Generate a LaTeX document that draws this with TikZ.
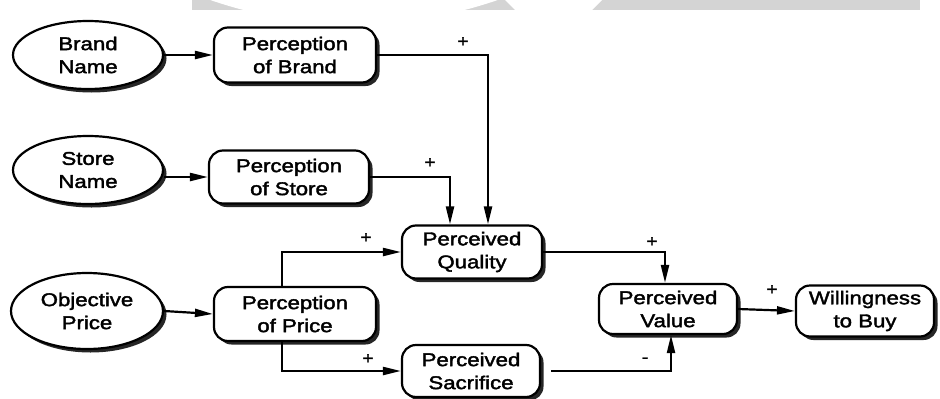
\documentclass[tikz,border=0pt]{standalone}
\usepackage{fontspec}
\newfontfamily\lab[FakeStretch=1.2,FakeBold=2]{Liberation Sans}
\usetikzlibrary{arrows.meta,shadows,shapes.geometric}
\begin{document}
\begin{tikzpicture}[x=1pt,y=-1pt,
  txt/.style={align=center,font=\lab\fontsize{18.5}{23}\selectfont,inner sep=0pt},
  shad/.style={drop shadow={shadow xshift=3.5pt,shadow yshift=-3.5pt,fill=black,opacity=0.85}},
  box/.style={txt,shad,draw=black,line width=2.2pt,fill=white,rounded corners=14pt,
              minimum width=138pt,minimum height=52pt},
  oval/.style={txt,shad,ellipse,draw=black,line width=2.2pt,fill=white,
               minimum width=150pt,minimum height=68pt},
  arr/.style={line width=2.2pt,-{Triangle[length=18pt,width=8pt]}},
  sign/.style={font=\lab\fontsize{16}{16}\selectfont,inner sep=0pt}]
\useasboundingbox (0,0) rectangle (940,399);
% watermark band
\fill[black!17] (192,0) rectangle (920,10);
\fill[white] (354,-416) circle (440);
\fill[white] (505,0) -- (602,0) -- (592,10) -- (515,10) -- cycle;
% nodes
\node[oval] (bn) at (88,55) {Brand\\Name};
\node[oval] (sn) at (88,170) {Store\\Name};
\node[oval,minimum width=152pt,minimum height=76pt] (op) at (87,311) {Objective\\Price};
\node[box,minimum width=162pt,minimum height=55pt] (pb) at (295,55) {Perception\\of Brand};
\node[box,minimum width=160pt,minimum height=53pt] (ps) at (289,177) {Perception\\of Store};
\node[box,minimum width=162pt,minimum height=54pt] (pp) at (295,314) {Perception\\of Price};
\node[box,minimum width=140pt,minimum height=53pt] (pq) at (472,252) {Perceived\\Quality};
\node[box,minimum width=138pt,minimum height=52pt] (sac) at (471,371) {Perceived\\Sacrifice};
\node[box,minimum width=138pt,minimum height=50pt] (pv) at (668,309) {Perceived\\Value};
\node[box,minimum width=138pt,minimum height=51pt] (wb) at (865,311) {Willingness\\to Buy};
% connectors
\draw[arr] (bn.east) -- (pb.west);
\draw[arr] (sn.east |- ps.west) -- (ps.west);
\draw[arr] (op.east) -- (pp.west);
\draw[arr] (pb.east) -| ([xshift=16pt]pq.north);
\draw[arr] (ps.east) -| ([xshift=-22pt]pq.north);
\draw[arr] ([xshift=-13pt]pp.north) |- (pq.west);
\draw[arr] ([xshift=-13pt]pp.south) |- (sac.west);
\draw[arr] (pq.east) -| ([xshift=-3pt]pv.north);
\draw[arr,shorten <=10pt] (sac.east) -| ([xshift=3pt]pv.south);
\draw[arr] (pv.east) -- (wb.west);
% signs
\node[sign] (s1) at (463,42) {+};
\node[sign] (s2) at (430,163) {+};
\node[sign] (s3) at (366,238) {+};
\node[sign] (s4) at (368,359) {+};
\node[sign] (s5) at (652,242) {+};
\node[sign] (s6) at (772,290) {+};
\node[sign] (s7) at (645,360) {-};
\end{tikzpicture}
\end{document}
